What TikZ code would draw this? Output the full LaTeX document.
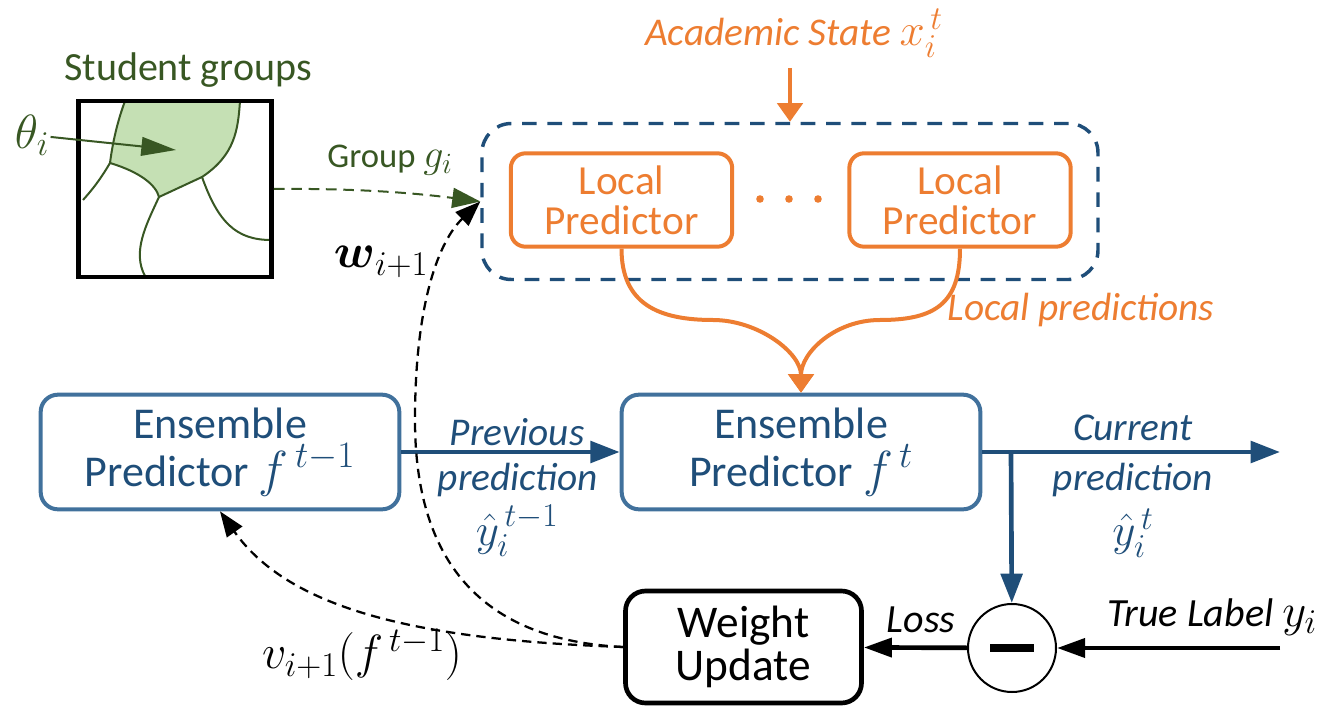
\RequirePackage{fix-cm}
\documentclass[tikz,border=0pt]{standalone}
\usepackage{amsmath}
\usepackage{fontspec}
\setmainfont{Carlito}
\usetikzlibrary{arrows.meta}
\DeclareMathSizes{33}{38}{28}{20}
\DeclareMathSizes{29.5}{34}{25}{18}
\DeclareMathSizes{30}{35}{26}{19}
\DeclareMathSizes{31}{36}{26}{19}
\DeclareMathSizes{26}{30}{22}{16}

\tikzset{every picture/.style={line width=0.75pt}}
\tikzset{
  ensbox/.style={draw={rgb, 255:red, 65; green, 113; blue, 156 }, line width=3pt, rounded corners=13pt, minimum width=269pt, minimum height=86pt, inner sep=0pt, align=center, text={rgb, 255:red, 31; green, 78; blue, 121 }, font=\fontsize{33}{36}\selectfont},
  localbox/.style={draw={rgb, 255:red, 237; green, 125; blue, 49 }, line width=3pt, rounded corners=11pt, minimum width=166pt, minimum height=70pt, inner sep=0pt, align=center, text={rgb, 255:red, 237; green, 125; blue, 49 }, font=\fontsize{31}{30}\selectfont},
  poolbox/.style={draw={rgb, 255:red, 31; green, 78; blue, 121 }, line width=2.6pt, dash pattern=on 11pt off 8pt, rounded corners=22pt, minimum width=462pt, minimum height=117pt},
  wbox/.style={draw=black, line width=3.5pt, rounded corners=15pt, minimum width=177pt, minimum height=84pt, inner sep=0pt, align=center, font=\fontsize{34}{32}\selectfont},
  minusnode/.style={draw=black, fill=white, line width=1.5pt, circle, minimum size=66pt, inner sep=0pt},
  grpbox/.style={draw=black, line width=3.4pt, minimum width=145pt, minimum height=132pt},
  grpline/.style={draw={rgb, 255:red, 56; green, 87; blue, 35 }, line width=1.5pt},
  ordot/.style={fill={rgb, 255:red, 237; green, 125; blue, 49 }},
  bluearrow/.style={draw={rgb, 255:red, 31; green, 78; blue, 121 }, line width=3.5pt, -{Triangle[length=22pt,width=16pt]}},
  blackarrow/.style={draw=black, line width=3.5pt, -{Triangle[length=21pt,width=14pt]}},
  orarrow/.style={draw={rgb, 255:red, 237; green, 125; blue, 49 }, line width=3pt, -{Triangle[length=14pt,width=19pt]}},
  wdash/.style={draw=black, line width=1.7pt, dash pattern=on 7pt off 4.5pt, -{Triangle[length=19pt,width=14pt]}},
  grpdash/.style={draw={rgb, 255:red, 56; green, 87; blue, 35 }, line width=1.5pt, dash pattern=on 8pt off 5pt, -{Triangle[length=21pt,width=15pt]}},
  grparrow/.style={draw={rgb, 255:red, 56; green, 87; blue, 35 }, line width=1.5pt, -{Triangle[length=26pt,width=14pt]}},
  grptext/.style={inner sep=0.75pt, text={rgb, 255:red, 56; green, 87; blue, 35 }, font=\fontsize{30}{34}\selectfont},
  bluetext/.style={inner sep=0.75pt, text={rgb, 255:red, 31; green, 78; blue, 121 }, font=\itshape\fontsize{29.5}{34}\selectfont},
  ortext/.style={inner sep=0.75pt, text={rgb, 255:red, 237; green, 125; blue, 49 }, font=\itshape\fontsize{29.5}{34}\selectfont},
  blacktext/.style={inner sep=0.75pt, text=black, font=\itshape\fontsize{30}{34}\selectfont},
  mathlabel/.style={inner sep=0.75pt, text=black, font=\fontsize{31}{34}\selectfont}
}

\begin{document}
\begin{tikzpicture}[x=0.75pt,y=0.75pt,yscale=-1,xscale=1]
\useasboundingbox (0,0) rectangle (1328,706);

%Shape: Student region
\draw [grpline, fill={rgb, 255:red, 197; green, 224; blue, 180 }] (125,101) -- (240,101) .. controls (238,130) and (235,155) .. (202,177) -- (159,197) .. controls (156,185) and (140,172) .. (110,163) .. controls (113,140) and (118,120) .. (125,101) -- cycle ;
%Shape: Region borders
\draw [grpline] (110,163) .. controls (100,180) and (92,190) .. (83,200) ;
\draw [grpline] (159,197) .. controls (146,225) and (132,252) .. (145,276) ;
\draw [grpline] (202,177) .. controls (218,222) and (236,240) .. (271,240) ;
%Shape: Square
\draw (175,189) node [grpbox] (groups) {};

%Shape: Dashed Rounded Rect
\draw (790,201.5) node [poolbox] (pool) {};
%Shape: Local predictors
\draw (621.5,200) node [localbox] (loc1) {Local\\Predictor};
\draw (960,200) node [localbox] (loc2) {Local\\Predictor};
%Shape: Dots
\fill [ordot] (760,199) circle (3.8) ;
\fill [ordot] (789,199) circle (3.8) ;
\fill [ordot] (818,199) circle (3.8) ;

%Shape: Ensemble predictors
\draw (220,452) node [ensbox] (ensprev) {Ensemble\\Predictor $f^{\,t-1}$};
\draw (801,452) node [ensbox] (enscur) {Ensemble\\Predictor $f^{\,t}$};
%Shape: Weight update
\draw (743.5,647) node [wbox] (weight) {Weight\\Update};
%Shape: Minus
\draw (1012,648) node [minusnode] (minus) {\raisebox{-4pt}{\rule{33pt}{6pt}}};

\coordinate (acin) at (790,68);
\coordinate (core) at (176,150);
\coordinate (lmid) at (713,320);
\coordinate (rmid) at (880,320);
\coordinate (split) at (1011,452);
\coordinate (outtip) at (1280,452);
\coordinate (truein) at (1280,648);

%Straight Lines [id:arrows]
\draw [orarrow] (acin) -- (pool) ;
\draw [orarrow] (loc1.south) .. controls +(0,55) and +(-55,0) .. (lmid) .. controls +(45,0) and +(0,-40) .. (enscur.north) ;
\draw [orarrow] (loc2.south) .. controls +(0,55) and +(55,0) .. (rmid) .. controls +(-45,0) and +(0,-40) .. (enscur.north) ;
\draw [bluearrow] (ensprev) -- (enscur) ;
\draw [bluearrow] (enscur.east) -- (outtip) ;
\draw [bluearrow] (split) -- (minus) ;
\draw [blackarrow] (truein) -- (minus) ;
\draw [blackarrow] (minus) -- (weight) ;
%Curve Lines [id:dashed]
\draw [grpdash] (groups.east) .. controls (370,188) and (430,195) .. (pool.west) ;
\draw [wdash] (weight.west) .. controls (480,640) and (415,560) .. (415,420) .. controls (415,300) and (440,240) .. (pool.west) ;
\draw [wdash] (weight.west) .. controls (420,640) and (290,610) .. (ensprev.south) ;

% Text Node
\draw (188,70) node [grptext] (grplab) {Student groups};
% Text Node
\draw (32,135) node [grptext, font=\fontsize{31}{34}\selectfont] (theta) {$\theta_i$};
\draw [grparrow] (theta) -- (core) ;
% Text Node
\draw (390,160) node [grptext, font=\fontsize{26}{30}\selectfont] (grpg) {Group $g_i$};
% Text Node
\draw (794,33) node [ortext] (acad) {Academic State $x_i^{\,t}$};
% Text Node
\draw (1081,310) node [ortext] (locpred) {Local predictions};
% Text Node
\draw (517,432) node [bluetext] (prev1) {Previous};
\draw (518,480) node [bluetext] (prev2) {prediction};
\draw (517,531) node [bluetext] (prev3) {$\hat{y}_i^{\,t-1}$};
% Text Node
\draw (1133,428) node [bluetext] (cur1) {Current};
\draw (1133,480) node [bluetext] (cur2) {prediction};
\draw (1133,533) node [bluetext] (cur3) {$\hat{y}_i^{\,t}$};
% Text Node
\draw (921,620) node [blacktext] (loss) {Loss};
% Text Node
\draw (1212,617) node [blacktext] (truelab) {True Label $y_i$};
% Text Node
\draw (381,262) node [mathlabel] (wlab) {$\boldsymbol{w}_{i+1}$};
% Text Node
\draw (362,655) node [mathlabel] (vlab) {$v_{i+1}(f^{\,t-1})$};

\end{tikzpicture}
\end{document}
